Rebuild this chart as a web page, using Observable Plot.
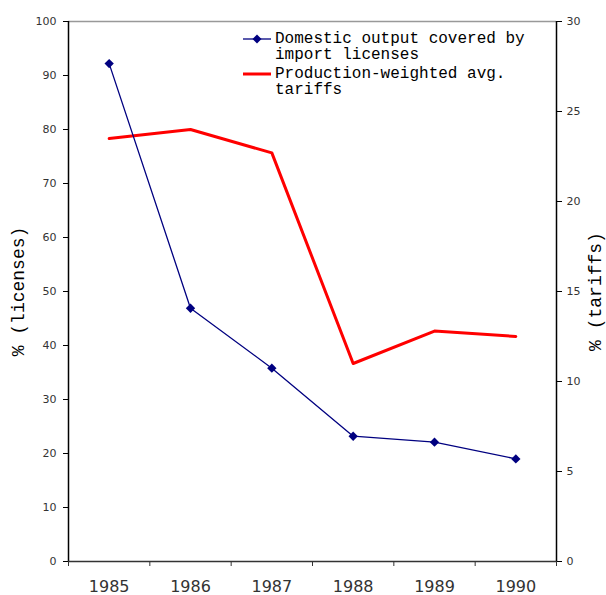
<!DOCTYPE html>
<html>
<head>
<meta charset="utf-8">
<script src="https://cdn.jsdelivr.net/npm/d3@7"></script>
<script src="https://cdn.jsdelivr.net/npm/@observablehq/plot@0.6"></script>
<style>
  html, body { margin: 0; padding: 0; background: #fff; }
  #wrap { position: relative; width: 606px; height: 595px; }
  #legend { position: absolute; left: 243px; top: 31px; font-family: "Liberation Mono", monospace; font-size: 16px; line-height: 16px; color: #000; }
  .row { display: flex; align-items: flex-start; margin-bottom: 3px; }
  .row svg { flex: none; margin-top: 1px; margin-right: 4px; }
</style>
</head>
<body>
<div id="wrap"></div>
<script>
const years = [1985, 1986, 1987, 1988, 1989, 1990];
const licenses = [92.2, 46.9, 35.8, 23.2, 22.1, 19.0];
const tariffs = [23.5, 24.0, 22.7, 11.0, 12.8, 12.5];
const leftTicks = [0, 10, 20, 30, 40, 50, 60, 70, 80, 90, 100];
const rightTicks = [0, 5, 10, 15, 20, 25, 30];
const seriesNames = ["Domestic output covered by\nimport licenses", "Production-weighted avg.\ntariffs"];
const seriesColors = ["#000080", "#ff0000"];

const rightMax = 30, leftMax = 100;
const toLeft = t => t * leftMax / rightMax;

const licData = years.map((y, i) => ({year: y, v: licenses[i]}));
const tarData = years.map((y, i) => ({year: y, v: toLeft(tariffs[i])}));
const bounds = d3.range(years.length + 1).map(i => years[0] - 0.5 + i);

const chart = Plot.plot({
  width: 606,
  height: 595,
  marginLeft: 68,
  marginRight: 50,
  marginTop: 21,
  marginBottom: 34,
  style: {fontFamily: "DejaVu Sans", background: "#fff"},
  x: {domain: [bounds[0], bounds[bounds.length - 1]]},
  y: {domain: [0, leftMax]},
  marks: [
    Plot.ruleY([leftMax], {stroke: "#999", strokeWidth: 1.5}),
    Plot.axisY({ticks: leftTicks, tickSize: 5, tickPadding: 7, fontSize: 11, color: "#333", stroke: "#000", label: null, style: {letterSpacing: "0.5px"}}),
    Plot.axisY({anchor: "right", ticks: rightTicks.map(toLeft), tickFormat: d => Math.round(d * rightMax / leftMax), tickSize: 6, dx: -1, tickPadding: 5, fontSize: 11, color: "#333", stroke: "#000", label: null, style: {letterSpacing: "0.5px"}}),
    Plot.axisX({ticks: bounds, tickFormat: () => "", tickSize: 5, stroke: "#333", label: null}),
    Plot.axisX({ticks: years, tickFormat: d => String(d), tickSize: 0, tickPadding: 19, fontSize: 16, color: "#333", label: null, style: {letterSpacing: "0.8px"}}),
    Plot.ruleX([bounds[0]], {stroke: "#000", strokeWidth: 1.5}),
    Plot.ruleX([bounds[bounds.length - 1]], {stroke: "#000", strokeWidth: 1.5}),
    Plot.ruleY([0], {stroke: "#333", strokeWidth: 1.5}),
    Plot.line(tarData, {x: "year", y: "v", stroke: seriesColors[1], strokeWidth: 3}),
    Plot.line(licData, {x: "year", y: "v", stroke: seriesColors[0], strokeWidth: 1.3}),
    Plot.dot(licData, {x: "year", y: "v", symbol: "diamond2", r: 4.2, fill: seriesColors[0], stroke: "none"}),
    Plot.text(["% (licenses)"], {frameAnchor: "left", textAnchor: "middle", rotate: -90, dx: -50, fontFamily: "Liberation Mono", fontSize: 18, fill: "#000"}),
    Plot.text(["% (tariffs)"], {frameAnchor: "right", textAnchor: "middle", rotate: -90, dx: 39, fontFamily: "Liberation Mono", fontSize: 18, fill: "#000"})
  ]
});

const wrap = document.getElementById("wrap");
wrap.appendChild(chart);

const legend = document.createElement("div");
legend.id = "legend";
seriesNames.forEach((name, i) => {
  const row = document.createElement("div");
  row.className = "row";
  const sw = i === 0
    ? `<svg width="28" height="14"><line x1="0" y1="7" x2="28" y2="7" stroke="${seriesColors[i]}" stroke-width="1.3"/><path d="M14,2.5L18.5,7L14,11.5L9.5,7Z" fill="${seriesColors[i]}"/></svg>`
    : `<svg width="28" height="14"><line x1="0" y1="7" x2="28" y2="7" stroke="${seriesColors[i]}" stroke-width="3"/></svg>`;
  row.innerHTML = sw + `<div style="white-space:pre">${name}</div>`;
  legend.appendChild(row);
});
wrap.appendChild(legend);
</script>
</body>
</html>
